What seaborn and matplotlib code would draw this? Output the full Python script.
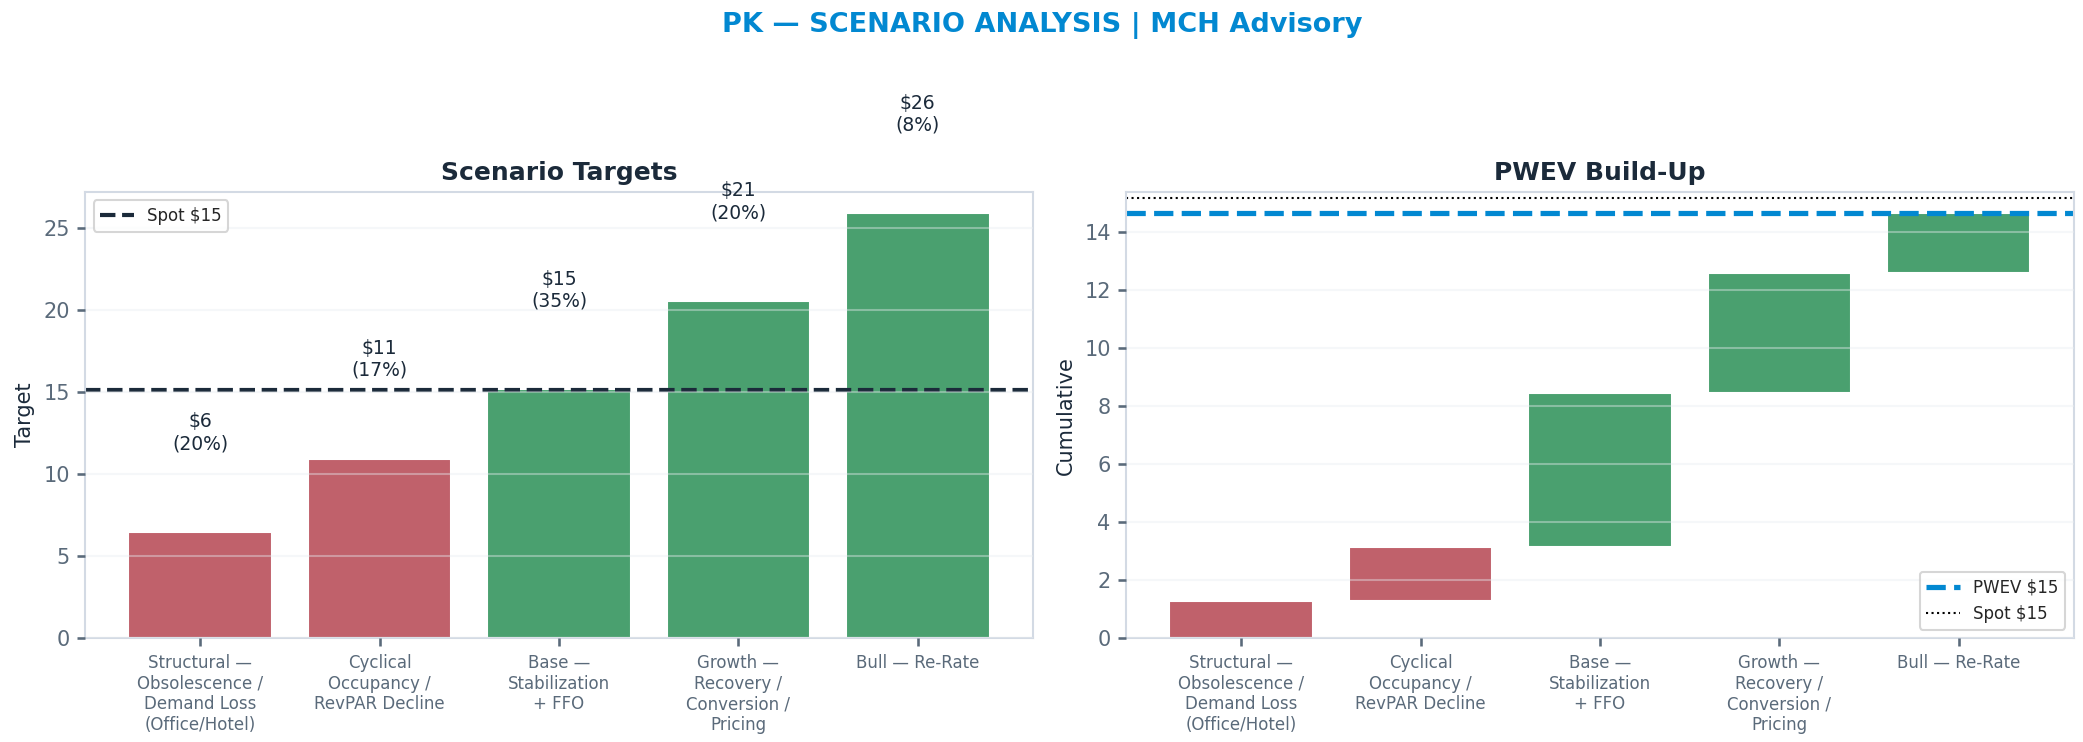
"""Scenario targets + PWEV waterfall for PK."""
import matplotlib
matplotlib.use("Agg")
import matplotlib.pyplot as plt
import numpy as np
import seaborn as sns

# ---------------------------------------------------------------------------
# Data
# ---------------------------------------------------------------------------
SCENARIOS = [
    "Structural —\nObsolescence /\nDemand Loss\n(Office/Hotel)",
    "Cyclical\nOccupancy /\nRevPAR Decline",
    "Base —\nStabilization\n+ FFO",
    "Growth —\nRecovery /\nConversion /\nPricing",
    "Bull — Re-Rate",
]
TARGETS = [6.47, 10.95, 15.17, 20.55, 25.9]
PROBS = [0.20, 0.17, 0.35, 0.20, 0.08]
CONTRIB = [1.29, 1.86, 5.31, 4.10, 2.07]   # probability-weighted value of each scenario
SPOT = 15.15
PWEV = 14.63

RED = "#C0616B"
GREEN = "#4AA06F"
NAVY = "#1B2A3A"
BLUE = "#0288D1"
GREY = "#5A6A7A"
SPINE = "#D3DAE4"

sns.set_theme(style="white")
plt.rcParams["font.family"] = ["DejaVu Sans"]

colors = [RED, RED, GREEN, GREEN, GREEN]


def style_axes(ax):
    for s in ax.spines.values():
        s.set_color(SPINE)
        s.set_linewidth(1.0)
    ax.set_axisbelow(False)
    ax.grid(True, axis="y", color="#E8ECF0", alpha=0.4, linewidth=1.0)
    ax.grid(False, axis="x")
    ax.tick_params(axis="y", labelsize=10, colors=GREY, length=4, left=True)
    ax.tick_params(axis="x", labelsize=8, colors=GREY, length=4, bottom=True)


fig = plt.figure(figsize=(13.893, 4.947), dpi=150)
gs = fig.add_gridspec(1, 2, left=0.041, right=0.995, top=0.741, bottom=0.140, wspace=0.099)
ax1 = fig.add_subplot(gs[0])
ax2 = fig.add_subplot(gs[1])

x = np.arange(len(SCENARIOS))

# --- PWEV waterfall ----------------------------------------------------------
bottoms = np.concatenate([[0], np.cumsum(CONTRIB)[:-1]])
ax2.bar(x, CONTRIB, bottom=bottoms, width=0.8, color=colors)
ax2.axhline(PWEV, color=BLUE, linestyle="--", linewidth=2.5, label=f"PWEV ${PWEV:.0f}")
ax2.axhline(SPOT, color="black", linestyle=":", linewidth=1.0, label=f"Spot ${SPOT:.0f}")
ax2.set_xticks(x)
ax2.set_xticklabels(SCENARIOS)
ax2.set_ylabel("Cumulative", fontsize=10, color=NAVY)
ax2.set_title("PWEV Build-Up", fontsize=12, fontweight="bold", color=NAVY)
ax2.legend(loc="lower right", fontsize=8, frameon=True, edgecolor="#CCCCCC")
style_axes(ax2)

# --- Scenario targets ------------------------------------------------------
sns.barplot(x=x, y=TARGETS, hue=x, palette=colors, legend=False, ax=ax1,
            width=0.8, saturation=1)
ax1.axhline(SPOT, color=NAVY, linestyle="--", linewidth=2.0, label=f"Spot ${SPOT:.0f}")
for i, (t, p) in enumerate(zip(TARGETS, PROBS)):
    ax1.text(i, t + 4.8, f"${t:.0f}\n({p:.0%})", ha="center", va="bottom",
             fontsize=9, color=NAVY, clip_on=False)
ax1.set_xticks(x)
ax1.set_xticklabels(SCENARIOS)
ax1.set_xlim(ax2.get_xlim())
ax1.set_xlabel("")
ax1.set_ylabel("Target", fontsize=10, color=NAVY)
ax1.set_title("Scenario Targets", fontsize=12, fontweight="bold", color=NAVY)
ax1.legend(loc="upper left", fontsize=8, frameon=True, edgecolor="#CCCCCC")
style_axes(ax1)

fig.suptitle("PK — SCENARIO ANALYSIS | MCH Advisory", fontsize=13,
             fontweight="bold", color=BLUE, y=0.966, va="center")

fig.savefig("out.png", dpi=150)
plt.close(fig)
